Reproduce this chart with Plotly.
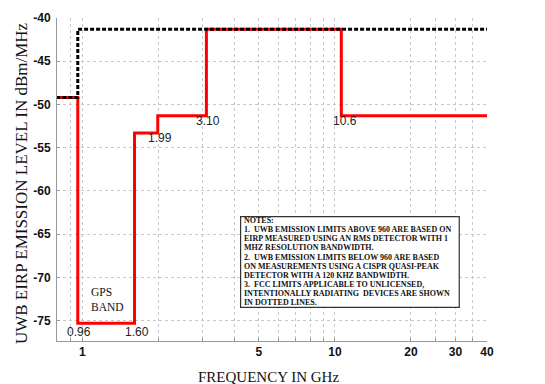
import math
import plotly.graph_objects as go

# Data
red_freq = [0.79, 0.96, 1.61, 1.99, 3.10, 10.6, 40.0]
red_level = [-49.2, -75.3, -53.3, -51.3, -41.3, -51.3, -51.3]
fcc_freq = [0.79, 0.96, 40.0]
fcc_level = [-49.2, -41.3, -41.3]
x_tick_vals = [1, 5, 10, 20, 30, 40]
x_grid_vals = [0.9, 1, 2, 3, 4, 5, 6, 7, 8, 9, 10, 20, 25, 30, 35, 40]
y_tick_vals = [-40, -45, -50, -55, -60, -65, -70, -75]
freq_labels = ["0.96", "1.60", "1.99", "3.10", "10.6"]
freq_label_x = [0.975, 1.64, 2.03, 3.14, 11.0]
freq_label_y = [-76.3, -76.3, -53.9, -51.95, -51.95]

note_lines = [
    "NOTES:",
    "1.  UWB EMISSION LIMITS ABOVE 960 ARE BASED ON",
    "EIRP MEASURED USING AN RMS DETECTOR WITH 1",
    "MHZ RESOLUTION BANDWIDTH.",
    "2.  UWB EMISSION LIMITS BELOW 960 ARE BASED",
    "ON MEASUREMENTS USING A CISPR QUASI-PEAK",
    "DETECTOR WITH A 120 KHZ BANDWIDTH.",
    "3.  FCC LIMITS APPLICABLE TO UNLICENSED,",
    "INTENTIONALLY RADIATING  DEVICES ARE SHOWN",
    "IN DOTTED LINES.",
]

serif = "Liberation Serif, Times New Roman, serif"
sans = "Liberation Sans, Arial, sans-serif"

fig = go.Figure()
fig.add_trace(go.Scatter(x=red_freq, y=red_level, mode="lines", line_shape="hv",
                         line=dict(color="#ff0000", width=3), showlegend=False, hoverinfo="skip"))
fig.add_trace(go.Scatter(x=fcc_freq, y=fcc_level, mode="lines", line_shape="hv",
                         line=dict(color="#000000", width=3, dash="4px,2px"), showlegend=False, hoverinfo="skip"))

annotations = []
for t, x, y in zip(freq_labels, freq_label_x, freq_label_y):
    annotations.append(dict(x=math.log10(x), y=y, xref="x", yref="y", text=t, showarrow=False,
                            font=dict(family=sans, size=12, color="#222")))
annotations.append(dict(x=math.log10(40), y=-41.3, xref="x", yref="y", text="-41.3 dBm", showarrow=False,
                        xanchor="left", xshift=1, font=dict(family=serif, size=10, color="#111")))
annotations.append(dict(x=math.log10(1.26), y=-72.6, xref="x", yref="y", text="GPS<br>BAND", showarrow=False,
                        align="left", font=dict(family=serif, size=11.5, color="#111")))

# notes box text, one annotation per line
note_top = 0.373
note_step = 9.33 / 330
for i, line in enumerate(note_lines):
    annotations.append(dict(x=0.4309, y=note_top - i * note_step, xref="paper", yref="paper",
                            text="<b>" + line + "</b>", showarrow=False, xanchor="left", yanchor="middle",
                            font=dict(family=serif, size=8, color="#111")))

annotations.append(dict(x=-0.082, y=0.488, xref="paper", yref="paper", text="UWB EIRP EMISSION LEVEL IN dBm/MHz",
                        showarrow=False, textangle=-90, xanchor="center", yanchor="middle",
                        font=dict(family=serif, size=17, color="#111")))
annotations.append(dict(x=0.4927, y=-0.112, xref="paper", yref="paper", text="FREQUENCY IN GHz",
                        showarrow=False, xanchor="center", yanchor="middle",
                        font=dict(family=serif, size=15, color="#111")))

shapes = [dict(type="rect", xref="paper", yref="paper", x0=0.427, x1=0.9355, y0=0.104, y1=0.385,
               line=dict(color="#333", width=1.2), fillcolor="white", layer="above")]

fig.update_layout(
    width=545, height=384,
    margin=dict(l=57, r=58, t=11, b=43),
    paper_bgcolor="white", plot_bgcolor="white",
    annotations=annotations,
    shapes=shapes,
    xaxis=dict(type="log", range=[-0.1, 1.602],
               tickvals=x_grid_vals,
               ticktext=[str(v) if v in x_tick_vals else "" for v in x_grid_vals],
               showgrid=True, gridcolor="#c8c8c8", griddash="dot", gridwidth=1,
               showline=True, linecolor="#999", linewidth=1, ticks="inside", ticklen=3, tickcolor="#999",
               tickfont=dict(family=sans, size=12, color="#111", weight="bold"), zeroline=False),
    yaxis=dict(range=[-77.35, -40], tickvals=y_tick_vals, ticktext=[str(v) for v in y_tick_vals],
               showgrid=True, gridcolor="#c8c8c8", griddash="dot", gridwidth=1,
               showline=True, linecolor="#999", linewidth=1, ticks="inside", ticklen=3, tickcolor="#999",
               ticklabelstandoff=3,
               tickfont=dict(family=sans, size=12, color="#111", weight="bold"), zeroline=False),
)

fig.write_html("out.html")
